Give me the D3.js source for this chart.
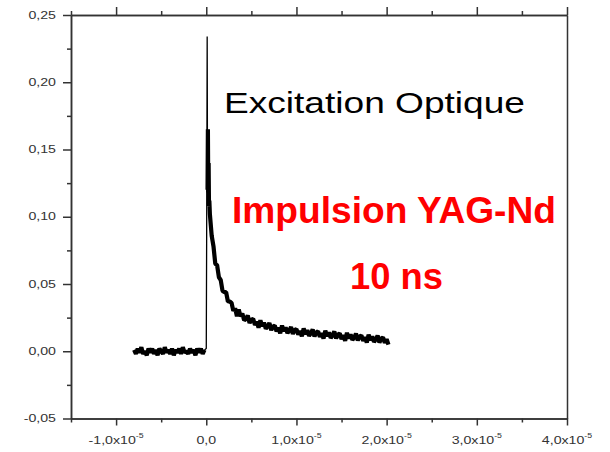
<!DOCTYPE html>
<html>
<head>
<meta charset="utf-8">
<script src="https://cdn.jsdelivr.net/npm/d3@7"></script>
<style>
  body { margin: 0; background: #fff; }
  svg { display: block; font-family: Arial, "Liberation Sans", sans-serif; }
</style>
</head>
<body>
<div id="chart"></div>
<script>
const width = 610;
const height = 452;
const margin = {left: 71, right: 43, top: 15, bottom: 33.5};

// time in units of 1e-5 s, signal in V
const xMajorTicks = [-1, 0, 1, 2, 3, 4];
const xMinorTicks = [-1.5, -0.5, 0.5, 1.5, 2.5, 3.5];
const xTickLabels = ["-1,0", "0,0", "1,0", "2,0", "3,0", "4,0"];
const xTickExp = ["-5", "", "-5", "-5", "-5", "-5"];

const yMajorTicks = [-0.05, 0, 0.05, 0.10, 0.15, 0.20, 0.25];
const yMinorTicks = [-0.025, 0.025, 0.075, 0.125, 0.175, 0.225];
const yTickLabels = ["-0,05", "0,00", "0,05", "0,10", "0,15", "0,20", "0,25"];

// pre-trigger baseline, sampled every 0.02 from -0.80
const baseStart = -0.80, baseStep = 0.02;
const baseValues = [0.001,-0.002,0.002,-0.001,0.003,-0.002,0.000,-0.003,0.002,-0.001,
  0.002,-0.002,0.001,-0.003,0.002,0.000,-0.002,0.003,-0.001,0.001,
  -0.002,0.002,-0.003,0.001,-0.001,0.002,-0.002,0.003,-0.001,0.000,
  -0.002,0.002,-0.001,0.001,-0.003,0.002,-0.001,0.002,-0.002,0.001];

// laser pulse spike (thin rise)
const spikeTimes = [-0.02, 0.000, 0.004, 0.010, 0.014];
const spikeValues = [0.001, 0.002, 0.080, 0.234, 0.120];

// start of the decay, right after the peak
const earlyTimes = [0.014, 0.018, 0.022, 0.026, 0.030, 0.034];
const earlyValues = [0.120, 0.165, 0.118, 0.140, 0.108, 0.112];

// decay, sampled every 0.02 from 0.04
const decayStart = 0.04, decayStep = 0.02;
const decayValues = [0.102,0.086,0.078,0.065,0.064,0.055,0.053,0.045,0.044,0.044,
  0.037,0.037,0.036,0.030,0.032,0.026,0.031,0.026,0.028,0.023,
  0.024,0.0265,0.021,0.0235,0.024,0.0195,0.022,0.0175,0.023,0.0186,
  0.0212,0.0168,0.0184,0.021,0.0157,0.0184,0.0191,0.0148,0.0175,0.0133,
  0.0191,0.0149,0.0177,0.0135,0.0153,0.0181,0.0129,0.0157,0.0165,0.0124,
  0.0152,0.0111,0.0169,0.0128,0.0156,0.0115,0.0133,0.0162,0.0110,0.0139,
  0.0148,0.0107,0.0135,0.0094,0.0153,0.0112,0.0140,0.0099,0.0118,0.0147,
  0.0095,0.0124,0.0132,0.0091,0.0120,0.0078,0.0137,0.0096,0.0125,0.0084,
  0.0102,0.0131,0.0080,0.0109,0.0118,0.0077,0.0105,0.0064,0.0123,0.0082,
  0.0110,0.0069,0.0088,0.0117,0.0065,0.0094,0.0103,0.0062,0.0090,0.0049];

const svg = d3.select("#chart")
  .append("svg")
  .attr("width", width)
  .attr("height", height);

const x = d3.scaleLinear()
  .domain([-1.5, 4.0])
  .range([margin.left, width - margin.right]);

const y = d3.scaleLinear()
  .domain([-0.05, 0.25])
  .range([height - margin.bottom, margin.top]);

const axisColor = "#333";

function styleAxis(g) {
  g.select(".domain").attr("stroke", axisColor).attr("stroke-width", 1.5);
  g.selectAll(".tick line").attr("stroke", axisColor).attr("stroke-width", 1.5);
  g.selectAll(".tick text").remove();
}

// bottom axis
svg.append("g")
  .attr("transform", `translate(0,${y(-0.05)})`)
  .call(d3.axisBottom(x).tickValues(xMajorTicks).tickSize(7).tickSizeOuter(0).tickFormat(""))
  .call(styleAxis);
svg.append("g")
  .attr("transform", `translate(0,${y(-0.05)})`)
  .call(d3.axisBottom(x).tickValues(xMinorTicks).tickSize(4).tickSizeOuter(0).tickFormat(""))
  .call(styleAxis);

// top axis
svg.append("g")
  .attr("transform", `translate(0,${y(0.25)})`)
  .call(d3.axisTop(x).tickValues(xMajorTicks).tickSize(8).tickSizeOuter(0).tickFormat(""))
  .call(styleAxis);
svg.append("g")
  .attr("transform", `translate(0,${y(0.25)})`)
  .call(d3.axisTop(x).tickValues(xMinorTicks).tickSize(4).tickSizeOuter(0).tickFormat(""))
  .call(styleAxis);

// left axis
svg.append("g")
  .attr("transform", `translate(${x(-1.5)},0)`)
  .call(d3.axisLeft(y).tickValues(yMajorTicks).tickSize(8).tickSizeOuter(0).tickFormat(""))
  .call(styleAxis);
svg.append("g")
  .attr("transform", `translate(${x(-1.5)},0)`)
  .call(d3.axisLeft(y).tickValues(yMinorTicks).tickSize(4).tickSizeOuter(0).tickFormat(""))
  .call(styleAxis);

// right axis, no ticks
svg.append("g")
  .attr("transform", `translate(${x(4.0)},0)`)
  .call(d3.axisRight(y).tickValues([]).tickSizeOuter(0))
  .call(styleAxis);

// y tick labels
svg.append("g")
  .selectAll("text")
  .data(yMajorTicks)
  .join("text")
  .attr("transform", d => `translate(${x(-1.5) - 15},${y(d) + 3.7}) scale(1.35,1)`)
  .attr("text-anchor", "end")
  .attr("font-size", "10.5px")
  .attr("fill", axisColor)
  .text((d, i) => yTickLabels[i]);

// x tick labels with x10^-5
const xl = svg.append("g")
  .selectAll("text")
  .data(xMajorTicks)
  .join("text")
  .attr("transform", d => `translate(${x(d)},${y(-0.05) + 25}) scale(1.35,1)`)
  .attr("text-anchor", "middle")
  .attr("font-size", "10.5px")
  .attr("fill", axisColor);

xl.append("tspan").text((d, i) => xTickLabels[i] + (xTickExp[i] ? "x10" : ""));
xl.append("tspan")
  .attr("font-size", "6.5px")
  .attr("dy", -6)
  .text((d, i) => xTickExp[i]);

// trace: noisy parts drawn thick, the fast rise drawn thin
const basePts = baseValues.map((v, i) => ({t: baseStart + i * baseStep, v}));
const spikePts = spikeValues.map((v, i) => ({t: spikeTimes[i], v}));
const decayPts = earlyValues.map((v, i) => ({t: earlyTimes[i], v}))
  .concat(decayValues.map((v, i) => ({t: decayStart + i * decayStep, v})));

const line = d3.line()
  .x(d => x(d.t))
  .y(d => y(d.v));

svg.append("g")
  .selectAll("path")
  .data([
    {pts: basePts, w: 4.2},
    {pts: spikePts, w: 1.3},
    {pts: decayPts, w: 4.2}
  ])
  .join("path")
  .attr("fill", "none")
  .attr("stroke", "#000")
  .attr("stroke-width", d => d.w)
  .attr("stroke-linejoin", "bevel")
  .attr("d", d => line(d.pts));

// annotations
svg.append("text")
  .attr("x", 224)
  .attr("y", 113)
  .attr("font-size", "30px")
  .attr("fill", "#000")
  .attr("textLength", 301)
  .attr("lengthAdjust", "spacingAndGlyphs")
  .text("Excitation Optique");

svg.append("text")
  .attr("x", 232)
  .attr("y", 223)
  .attr("font-size", "36px")
  .attr("font-weight", "bold")
  .attr("fill", "#ff0000")
  .attr("textLength", 324)
  .attr("lengthAdjust", "spacingAndGlyphs")
  .text("Impulsion YAG-Nd");

svg.append("text")
  .attr("x", 350)
  .attr("y", 289)
  .attr("font-size", "36px")
  .attr("font-weight", "bold")
  .attr("fill", "#ff0000")
  .attr("textLength", 93)
  .attr("lengthAdjust", "spacingAndGlyphs")
  .text("10 ns");
</script>
</body>
</html>
